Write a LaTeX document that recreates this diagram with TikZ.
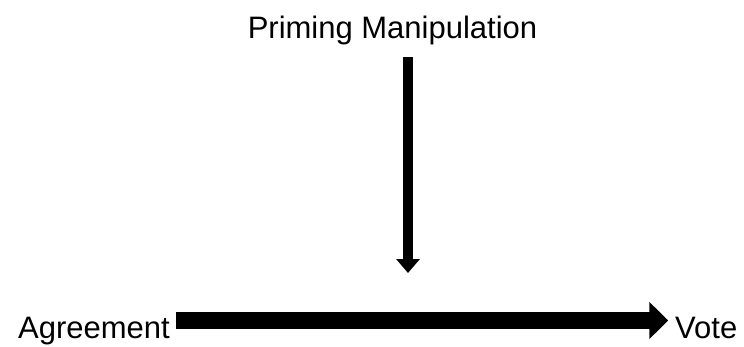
\documentclass[tikz,border=0pt]{standalone}
\usepackage{fontspec}
\setmainfont{Liberation Sans}
\usetikzlibrary{arrows.meta,positioning}
\begin{document}
\begin{tikzpicture}[x=1pt,y=1pt,
  label text/.style={font=\fontsize{31}{37}\selectfont, inner sep=0pt, text height=23pt, text depth=7pt},
  thin arrow/.style={line width=10.5pt, -{Triangle[length=14pt,width=23pt]}},
  thick arrow/.style={line width=17pt, -{Triangle[length=19pt,width=36pt]}}]
  \useasboundingbox (0,0) rectangle (744,346);
  % labels
  \node[label text, anchor=base] (prime) at (392.5,307) {Priming Manipulation};
  \node[label text, anchor=base east] (agree) at (170,8) {Agreement};
  \node[label text, anchor=base west] (vote) at (675,8) {Vote};
  \coordinate (target) at (408,73);
  % arrows
  \draw[thin arrow] ([yshift=-11pt]prime.south -| target) -- (target);
  \draw[thick arrow] ([xshift=5.7pt,yshift=9.5pt]agree.east) -- ([xshift=-6.7pt,yshift=9.5pt]vote.west);
\end{tikzpicture}
\end{document}
